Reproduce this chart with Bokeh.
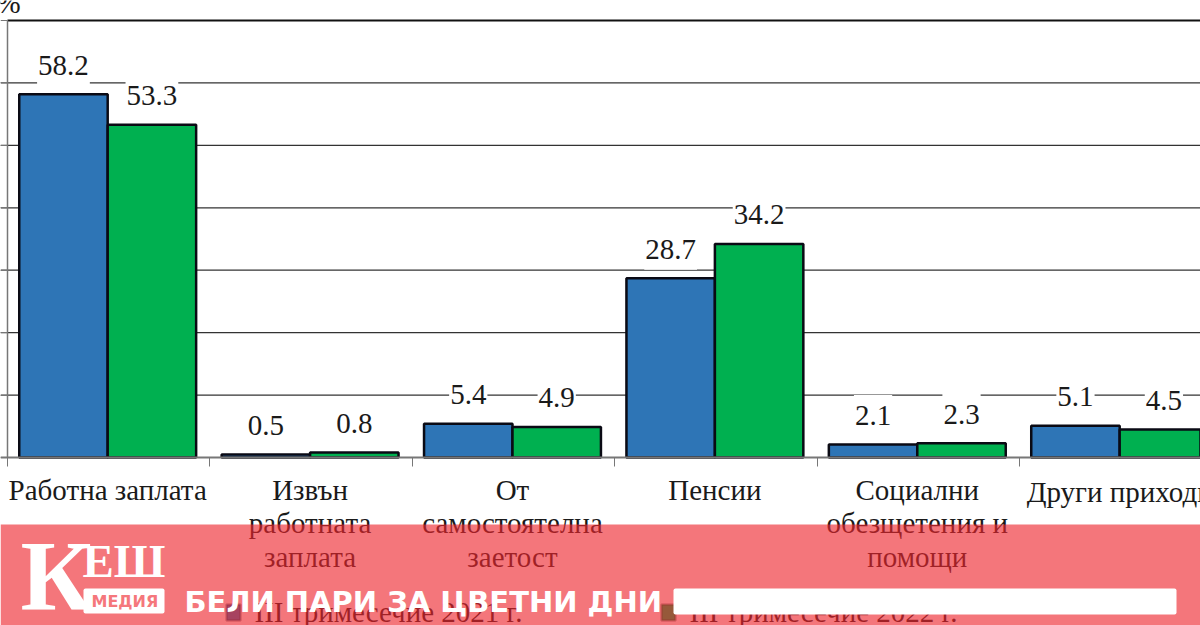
from bokeh.embed import file_html
from bokeh.resources import INLINE
from bokeh.plotting import figure
from bokeh.models import (ColumnDataSource, Label, BoxAnnotation, FixedTicker, Range1d, LinearAxis)

categories = ["Работна заплата", "Извън\nработната\nзаплата", "От\nсамостоятелна\nзаетост",
              "Пенсии", "Социални\nобезщетения и\nпомощи", "Други приходи"]
q3_2021 = [58.2, 0.5, 5.4, 28.7, 2.1, 5.1]
q3_2022 = [53.3, 0.8, 4.9, 34.2, 2.3, 4.5]
y_ticks = [0, 10, 20, 30, 40, 50, 60, 70]
legend_names = ["III тримесечие 2021 г.", "III тримесечие 2022 г."]

W, H = 1200, 625
LEFT, BASE, TOP = 7, 457, 20
X_PX = 202.4                    # pixels per category
Y_PX = (BASE - TOP) / 70        # pixels per percent
BLUE, GREEN, EDGE = "#2e75b6", "#00b050", "#0a0a14"

# the frame fills the whole picture, so the banner and the half-hidden legend are not clipped
xr = Range1d(-LEFT / X_PX, (W - LEFT) / X_PX)
yr = Range1d(-(H - BASE) / Y_PX, BASE / Y_PX)
p = figure(width=W, height=H, output_backend="svg", toolbar_location=None,
           x_range=xr, y_range=yr, x_axis_location=None, y_axis_location=None,
           min_border=0, background_fill_color="white", border_fill_color="white",
           outline_line_color=None)
p.grid.visible = False

centers = [i + 0.495 for i in range(len(categories))]
bw = 0.437
blue_x = [c - bw / 2 for c in centers]
green_x = [c + bw / 2 for c in centers]
blue = ColumnDataSource(dict(x=blue_x, top=q3_2021))
green = ColumnDataSource(dict(x=green_x, top=q3_2022))

# horizontal rules at the y ticks, drawn from the left edge
grid_y = y_ticks[1:-1]
p.segment(x0=[xr.start] * len(grid_y), x1=[xr.end] * len(grid_y), y0=grid_y, y1=grid_y,
          line_color="#333333", line_width=1.3)
p.segment(x0=[0], x1=[xr.end], y0=[y_ticks[-1]], y1=[y_ticks[-1]], line_color="#111111", line_width=2)

p.vbar(x="x", top="top", width=bw, source=blue, fill_color=BLUE, line_color=EDGE, line_width=2.5)
p.vbar(x="x", top="top", width=bw, source=green, fill_color=GREEN, line_color=EDGE, line_width=2.5)

for xs, vals in ((blue_x, q3_2021), (green_x, q3_2022)):
    for x, v in zip(xs, vals):
        p.add_layout(Label(x=x, y=v, text=f"{v:.1f}", text_align="center", text_baseline="middle",
                           y_offset=29, text_font="Liberation Serif", text_font_size="29px",
                           text_color="#1a1a1a", background_fill_color="white", padding=(1, 11)))

yaxis = LinearAxis(fixed_location=0, bounds=(0, 70))
yaxis.ticker = FixedTicker(ticks=y_ticks)
yaxis.major_label_overrides = {t: "" for t in y_ticks}
yaxis.major_tick_out = 7
yaxis.major_tick_in = 0
yaxis.minor_tick_line_color = None
yaxis.axis_line_color = "#777777"
yaxis.major_tick_line_color = "#777777"
yaxis.axis_line_width = 1.5
p.add_layout(yaxis, "left")

# the last category label runs past the picture's edge, so it is a free label: the axis would shift it
xaxis = LinearAxis(fixed_location=0)
xaxis.ticker = FixedTicker(ticks=centers, minor_ticks=list(range(len(categories) + 1)))
xaxis.major_label_overrides = {c: n for c, n in zip(centers[:-1], categories[:-1])} | {centers[-1]: ""}
xaxis.major_tick_line_color = None
xaxis.major_tick_out = 0
xaxis.major_tick_in = 0
xaxis.minor_tick_out = 9
xaxis.minor_tick_in = 0
xaxis.minor_tick_line_color = "#777777"
xaxis.axis_line_color = "#777777"
xaxis.axis_line_width = 2
xaxis.major_label_standoff = 7
xaxis.major_label_text_font = "Liberation Serif"
xaxis.major_label_text_font_size = "29px"
xaxis.major_label_text_line_height = 1.05
xaxis.major_label_text_color = "#1a1a1a"
xaxis.major_label_orientation = "horizontal"
p.add_layout(xaxis, "below")
p.add_layout(Label(x=centers[-1], y=0, y_offset=-34, text=categories[-1], text_align="center",
                   text_baseline="middle", text_font="Liberation Serif", text_font_size="29px",
                   text_color="#1a1a1a"))


def lab(x, y, text, size, color="#1a1a1a", font="Liberation Serif", style="normal"):
    """x, y are picture pixels from the top-left; y is the text middle"""
    p.add_layout(Label(x=x, y=H - y, x_units="screen", y_units="screen", text=text,
                       text_font=font, text_font_size=size, text_color=color,
                       text_font_style=style, text_align="left", text_baseline="middle"))


def box(l, r, t, b, color, alpha=1.0, line=None, lw=1, radius=0):
    p.add_layout(BoxAnnotation(left=l, right=r, top=H - t, bottom=H - b,
                               left_units="screen", right_units="screen", top_units="screen",
                               bottom_units="screen", fill_color=color, fill_alpha=alpha,
                               line_color=line, line_width=lw, border_radius=radius))


lab(-4, 2, "%", "29px")

# legend (mostly hidden under the banner)
box(226, 240, 604, 620, BLUE, line=EDGE, lw=2.5)
box(661, 675, 604, 620, GREEN, line=EDGE, lw=2.5)
lab(254, 611, legend_names[0], "29px")
lab(689, 611, legend_names[1], "29px")

# banner
box(0, W, 524, H, "#ee262e", alpha=0.63)
box(673, 1176, 588, 614, "white", radius=2)
box(83, 164, 588, 613, "white", radius=2)
lab(20, 575, "К", "99px", color="white", style="bold")
lab(82, 560, "ЕШ", "47px", color="white", style="bold")
lab(91, 601, "МЕДИЯ", "16px", color="#f5777c", font="DejaVu Sans", style="bold")
lab(184, 601, "БЕЛИ ПАРИ ЗА ЦВЕТНИ ДНИ", "29px", color="white", font="DejaVu Sans", style="bold")

open("out.html", "w").write(file_html(p, INLINE))
